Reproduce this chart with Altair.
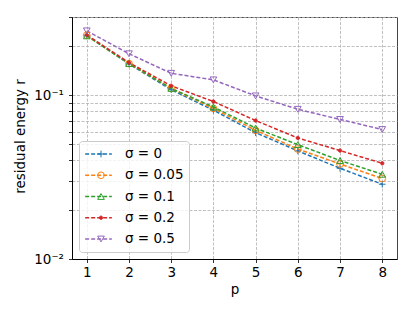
import altair as alt
import pandas as pd

p_values = [1, 2, 3, 4, 5, 6, 7, 8]
sigma_labels = ["σ = 0", "σ = 0.05", "σ = 0.1", "σ = 0.2", "σ = 0.5"]
r_sigma_0 = [0.232, 0.155, 0.108, 0.081, 0.059, 0.0457, 0.0358, 0.0286]
r_sigma_005 = [0.232, 0.156, 0.110, 0.083, 0.061, 0.0469, 0.0380, 0.0310]
r_sigma_01 = [0.230, 0.156, 0.110, 0.0847, 0.063, 0.0499, 0.0399, 0.0329]
r_sigma_02 = [0.233, 0.158, 0.114, 0.0915, 0.070, 0.0548, 0.0459, 0.0384]
r_sigma_05 = [0.247, 0.179, 0.136, 0.124, 0.099, 0.082, 0.0711, 0.0617]
series_values = [r_sigma_0, r_sigma_005, r_sigma_01, r_sigma_02, r_sigma_05]

colors = ["#1f77b4", "#ff7f0e", "#2ca02c", "#d62728", "#9467bd"]
fills = ["transparent", "transparent", "transparent", "#d62728", "transparent"]
shapes = [
    "M-1,0H1M0,-1V1",
    "circle",
    "triangle-up",
    "M-0.5,0A0.5,0.5,0,1,1,0.5,0A0.5,0.5,0,1,1,-0.5,0Z",
    "triangle-down",
]
y_ticks = [0.01, 0.02, 0.03, 0.04, 0.05, 0.06, 0.07, 0.08, 0.09, 0.1, 0.2, 0.3]

rows = []
for lab, vals in zip(sigma_labels, series_values):
    for p, r in zip(p_values, vals):
        rows.append({"p": p, "r": r, "s": lab, "s2": lab})
df = pd.DataFrame(rows)

FONT = "DejaVu Sans"
FS = 13.5
GRID = dict(grid=True, gridDash=[3, 1.5], gridColor="#b0b0b0", gridWidth=0.8)

x_axis = alt.Axis(values=p_values, format="d", title="p", tickSize=3.5, labelPadding=3,
                  titleX=162.5, titleY=34, titleBaseline="alphabetic", **GRID)
y_axis = alt.Axis(values=y_ticks, title="residual energy r", tickSize=3.5, labelPadding=5,
                  labelOverlap=False,
                  labelExpr="abs(datum.value - 0.01) < 1e-9 ? '10⁻²' : (abs(datum.value - 0.1) < 1e-9 ? '10⁻¹' : '')",
                  titleX=-52, titleY=119, titleBaseline="middle", **GRID)

x_enc = alt.X("p:Q", scale=alt.Scale(domain=[0.65, 8.35], nice=False, zero=False), axis=x_axis)
y_enc = alt.Y("r:Q", scale=alt.Scale(type="log", domain=[0.01, 0.3], nice=False), axis=y_axis)

LEG_X = 7
LEG_Y = 124
line_legend = alt.Legend(title=None, orient="none", legendX=LEG_X, legendY=LEG_Y,
                         symbolType="stroke", symbolSize=713, symbolStrokeWidth=1.5,
                         symbolDash=[4, 2], labelOffset=12, padding=5,
                         clipHeight=16, rowPadding=5.25,
                         labelFont=FONT, labelFontSize=FS, labelColor="black",
                         fillColor="rgba(255,255,255,0.8)", strokeColor="#cccccc",
                         cornerRadius=3)
pt_legend = alt.Legend(title=None, orient="none", legendX=LEG_X + 10.25, legendY=LEG_Y,
                       symbolSize=45, symbolStrokeWidth=1, labelExpr="''",
                       padding=5, clipHeight=16, rowPadding=5.25,
                       labelFont=FONT, labelFontSize=FS)

lines = alt.Chart(df).mark_line(strokeDash=[4, 2], strokeWidth=1.5, clip=True).encode(
    x=x_enc, y=y_enc,
    color=alt.Color("s:N", scale=alt.Scale(range=colors), legend=line_legend),
)
points = alt.Chart(df).mark_point(size=45, strokeWidth=1, opacity=1, clip=True).encode(
    x="p:Q", y="r:Q",
    stroke=alt.Stroke("s2:N", scale=alt.Scale(range=colors), legend=pt_legend),
    fill=alt.Fill("s2:N", scale=alt.Scale(range=fills), legend=pt_legend),
    shape=alt.Shape("s2:N", scale=alt.Scale(range=shapes), legend=pt_legend),
)

chart = alt.layer(lines, points).properties(
    width=325, height=242,
    autosize=alt.AutoSizeParams(type="none"),
    padding={"left": 64, "top": 9, "right": 10, "bottom": 44},
).configure_view(stroke="#444444", strokeWidth=1).configure_axis(
    labelFont=FONT, labelFontSize=FS, labelColor="black",
    titleFont=FONT, titleFontSize=FS, titleFontWeight="normal", titleColor="black",
    domainColor="black", tickColor="black", domainWidth=1, tickWidth=0.8,
)

chart.save("out.html", embed_options={"renderer": "svg", "actions": False})
